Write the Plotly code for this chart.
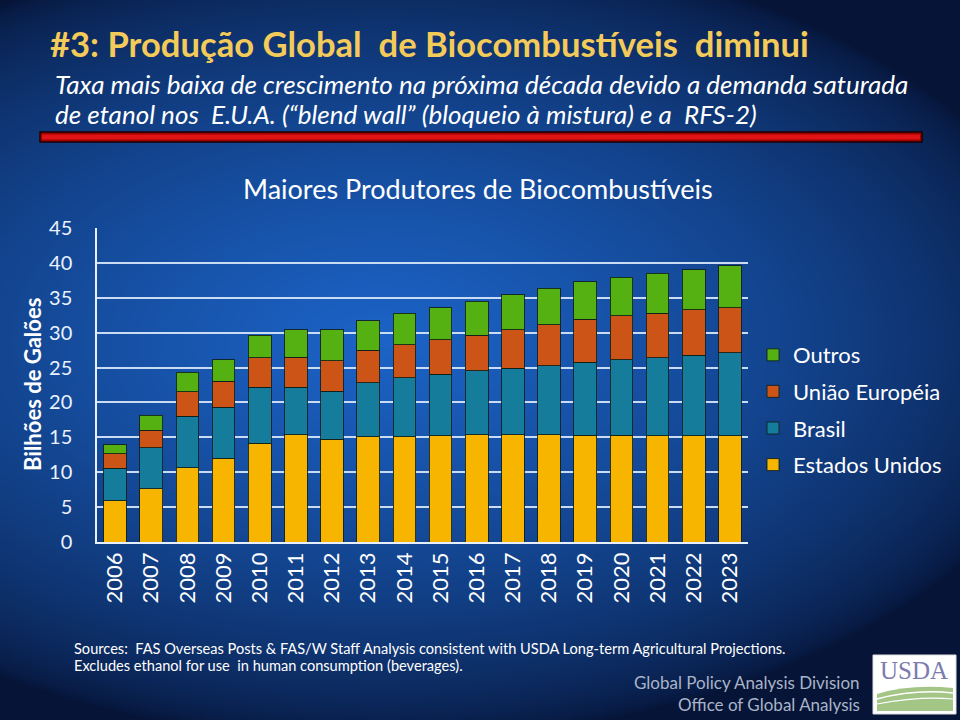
import base64, struct, zlib
import numpy as np
import plotly.graph_objects as go

# ---------------- data ----------------
years = [str(y) for y in range(2006, 2024)]
estados_unidos = [5.9, 7.6, 10.65, 12.0, 14.15, 15.4, 14.75, 15.1, 15.1, 15.25, 15.35, 15.35, 15.35, 15.3, 15.3, 15.25, 15.25, 15.2]
brasil = [4.65, 5.9, 7.4, 7.3, 8.0, 6.75, 6.85, 7.7, 8.45, 8.8, 9.2, 9.55, 9.9, 10.45, 10.8, 11.15, 11.55, 11.95]
uniao_europeia = [2.1, 2.55, 3.5, 3.75, 4.25, 4.35, 4.4, 4.7, 4.75, 4.9, 5.1, 5.5, 5.9, 6.15, 6.3, 6.35, 6.45, 6.45]
outros = [1.3, 2.1, 2.75, 3.05, 3.2, 3.95, 4.4, 4.2, 4.45, 4.65, 4.85, 5.0, 5.2, 5.4, 5.55, 5.75, 5.8, 6.0]
y_ticks = [0, 5, 10, 15, 20, 25, 30, 35, 40, 45]

series = [
    ("Estados Unidos", estados_unidos, "#F7B500", 4),
    ("Brasil", brasil, "#167C9C", 3),
    ("União Européia", uniao_europeia, "#CC5416", 2),
    ("Outros", outros, "#55B012", 1),
]

# ---------------- geometry helpers ----------------
W, H = 960, 720
L, R, T, B = 97, 212, 228, 178
PW, PH = W - L - R, H - T - B

def px(x):
    return (x - L) / PW

def py(y):
    return (H - B - y) / PH

# ---------------- background gradient image ----------------
def make_png(arr):
    h, w, _ = arr.shape
    raw = b"".join(b"\x00" + arr[i].tobytes() for i in range(h))
    def chunk(tag, data):
        return struct.pack(">I", len(data)) + tag + data + struct.pack(">I", zlib.crc32(tag + data) & 0xffffffff)
    return (b"\x89PNG\r\n\x1a\n" + chunk(b"IHDR", struct.pack(">IIBBBBB", w, h, 8, 2, 0, 0, 0))
            + chunk(b"IDAT", zlib.compress(raw, 9)) + chunk(b"IEND", b""))

gw, gh = 480, 360
xx, yy = np.meshgrid(np.arange(gw) * 2.0, np.arange(gh) * 2.0)
d = np.sqrt(((xx - 380) / 700.0) ** 2 + ((yy - 340) / 400.0) ** 2)
f = np.clip(1 - d, 0, 1) ** 0.6
edge = np.array([6, 20, 55], dtype=float)
center = np.array([28, 100, 200], dtype=float)
img = edge[None, None, :] + (center - edge)[None, None, :] * f[:, :, None]
img = np.clip(img, 0, 255).astype(np.uint8)
bg_uri = "data:image/png;base64," + base64.b64encode(make_png(img)).decode()

# ---------------- figure ----------------
fig = go.Figure()
for i, (name, vals, color, rank) in enumerate(series):
    fig.add_trace(go.Bar(
        x=years, y=vals, name=name, legendgroup=f"g{i}", legendrank=rank,
        marker=dict(color=color, line=dict(color="rgba(15,30,25,0.85)", width=1)),
    ))

FONT = "Lato, 'Open Sans', sans-serif"

annotations = []
def ann(text, x, y, xa="left", ya="middle", size=16, color="white", family=FONT, angle=0):
    annotations.append(dict(text=text, x=px(x), y=py(y), xref="paper", yref="paper",
                            xanchor=xa, yanchor=ya, showarrow=False, textangle=angle,
                            font=dict(size=size, color=color, family=family)))

ann("<b>#3: Produção Global  de Biocombustíveis  diminui</b>", 48, 44, size=34.6, color="#F4CB58")
ann("<i>Taxa mais baixa de crescimento na próxima década devido a demanda saturada</i>", 53, 84, size=26)
ann("<i>de etanol nos  E.U.A. (“blend wall” (bloqueio à mistura) e a  RFS-2)</i>", 53, 114, size=26)
ann("Maiores Produtores de Biocombustíveis", 478, 188, xa="center", size=27)
ann("<b>Bilhões de Galões</b>", 32, 385, xa="center", size=22, angle=-90)
ann("Sources:  FAS Overseas Posts & FAS/W Staff Analysis consistent with USDA Long-term Agricultural Projections.",
    72, 648, size=14.6)
ann("Excludes ethanol for use  in human consumption (beverages).", 72, 665, size=14.6)
ann("Global Policy Analysis Division", 862, 682, xa="right", size=17, color="#A9B4C8")
ann("Office of Global Analysis", 862, 704, xa="right", size=17, color="#A9B4C8")
ann("USDA", 914, 670, xa="center", size=25, color="#7C7CB0", family="'Liberation Serif', 'DejaVu Serif', serif")

shapes = [
    # red divider bar
    dict(type="rect", xref="paper", yref="paper", x0=px(40), x1=px(922), y0=py(142), y1=py(132),
         fillcolor="#A00000", line=dict(color="#1a0000", width=1.5), layer="above"),
    dict(type="rect", xref="paper", yref="paper", x0=px(42), x1=px(920), y0=py(139.5), y1=py(134.5),
         fillcolor="#E01414", line=dict(width=0), layer="above"),
    # USDA logo box
    dict(type="rect", xref="paper", yref="paper", x0=px(873), x1=px(956), y0=py(714), y1=py(655),
         fillcolor="white", line=dict(color="#dddddd", width=1), layer="below"),
    dict(type="path", xref="paper", yref="paper", layer="above",
         path=(f"M {px(877)},{py(694)} Q {px(910)},{py(684)} {px(953)},{py(688)} "
               f"L {px(953)},{py(711)} L {px(877)},{py(711)} Z"),
         fillcolor="#A3C585", line=dict(width=0)),
    dict(type="path", xref="paper", yref="paper", layer="above",
         path=f"M {px(877)},{py(699)} Q {px(915)},{py(689)} {px(953)},{py(693)}",
         line=dict(color="white", width=1.5)),
    dict(type="path", xref="paper", yref="paper", layer="above",
         path=f"M {px(877)},{py(704)} Q {px(920)},{py(696)} {px(953)},{py(699)}",
         line=dict(color="white", width=1.2)),
]

fig.update_layout(
    width=W, height=H, autosize=False,
    margin=dict(l=L, r=R, t=T, b=B, pad=0),
    paper_bgcolor="#0b2455", plot_bgcolor="rgba(0,0,0,0)",
    barmode="stack", bargap=0.37,
    font=dict(family=FONT, color="white"),
    showlegend=True,
    legend=dict(x=px(753), y=py(334), xanchor="left", yanchor="top",
                traceorder="grouped", tracegroupgap=5,
                bgcolor="rgba(0,0,0,0)", font=dict(size=22, color="white", family=FONT)),
    images=[dict(source=bg_uri, xref="paper", yref="paper", x=px(0), y=py(0),
                 sizex=W / PW, sizey=H / PH, xanchor="left", yanchor="top",
                 sizing="stretch", layer="below")],
    annotations=annotations,
    shapes=shapes,
    xaxis=dict(showline=True, linecolor="#E8F0FF", linewidth=1.5, ticks="",
               tickangle=-90, tickfont=dict(size=22, color="white"), ticklabelstandoff=0,
               showgrid=False, zeroline=False, automargin=False),
    yaxis=dict(range=[0, 45], tickvals=y_ticks, showline=True, linecolor="#E8F0FF", linewidth=1.5,
               showgrid=True, gridcolor="#C9DCF4", gridwidth=1.5, zeroline=False, ticks="",
               tickfont=dict(size=20, color="#EAF2FF"), ticklabelstandoff=19, automargin=False),
)

fig.write_html(
    "out.html",
    config={"displayModeBar": False},
    post_script="document.body.style.margin='0px';document.body.style.backgroundColor='#061437';",
)
